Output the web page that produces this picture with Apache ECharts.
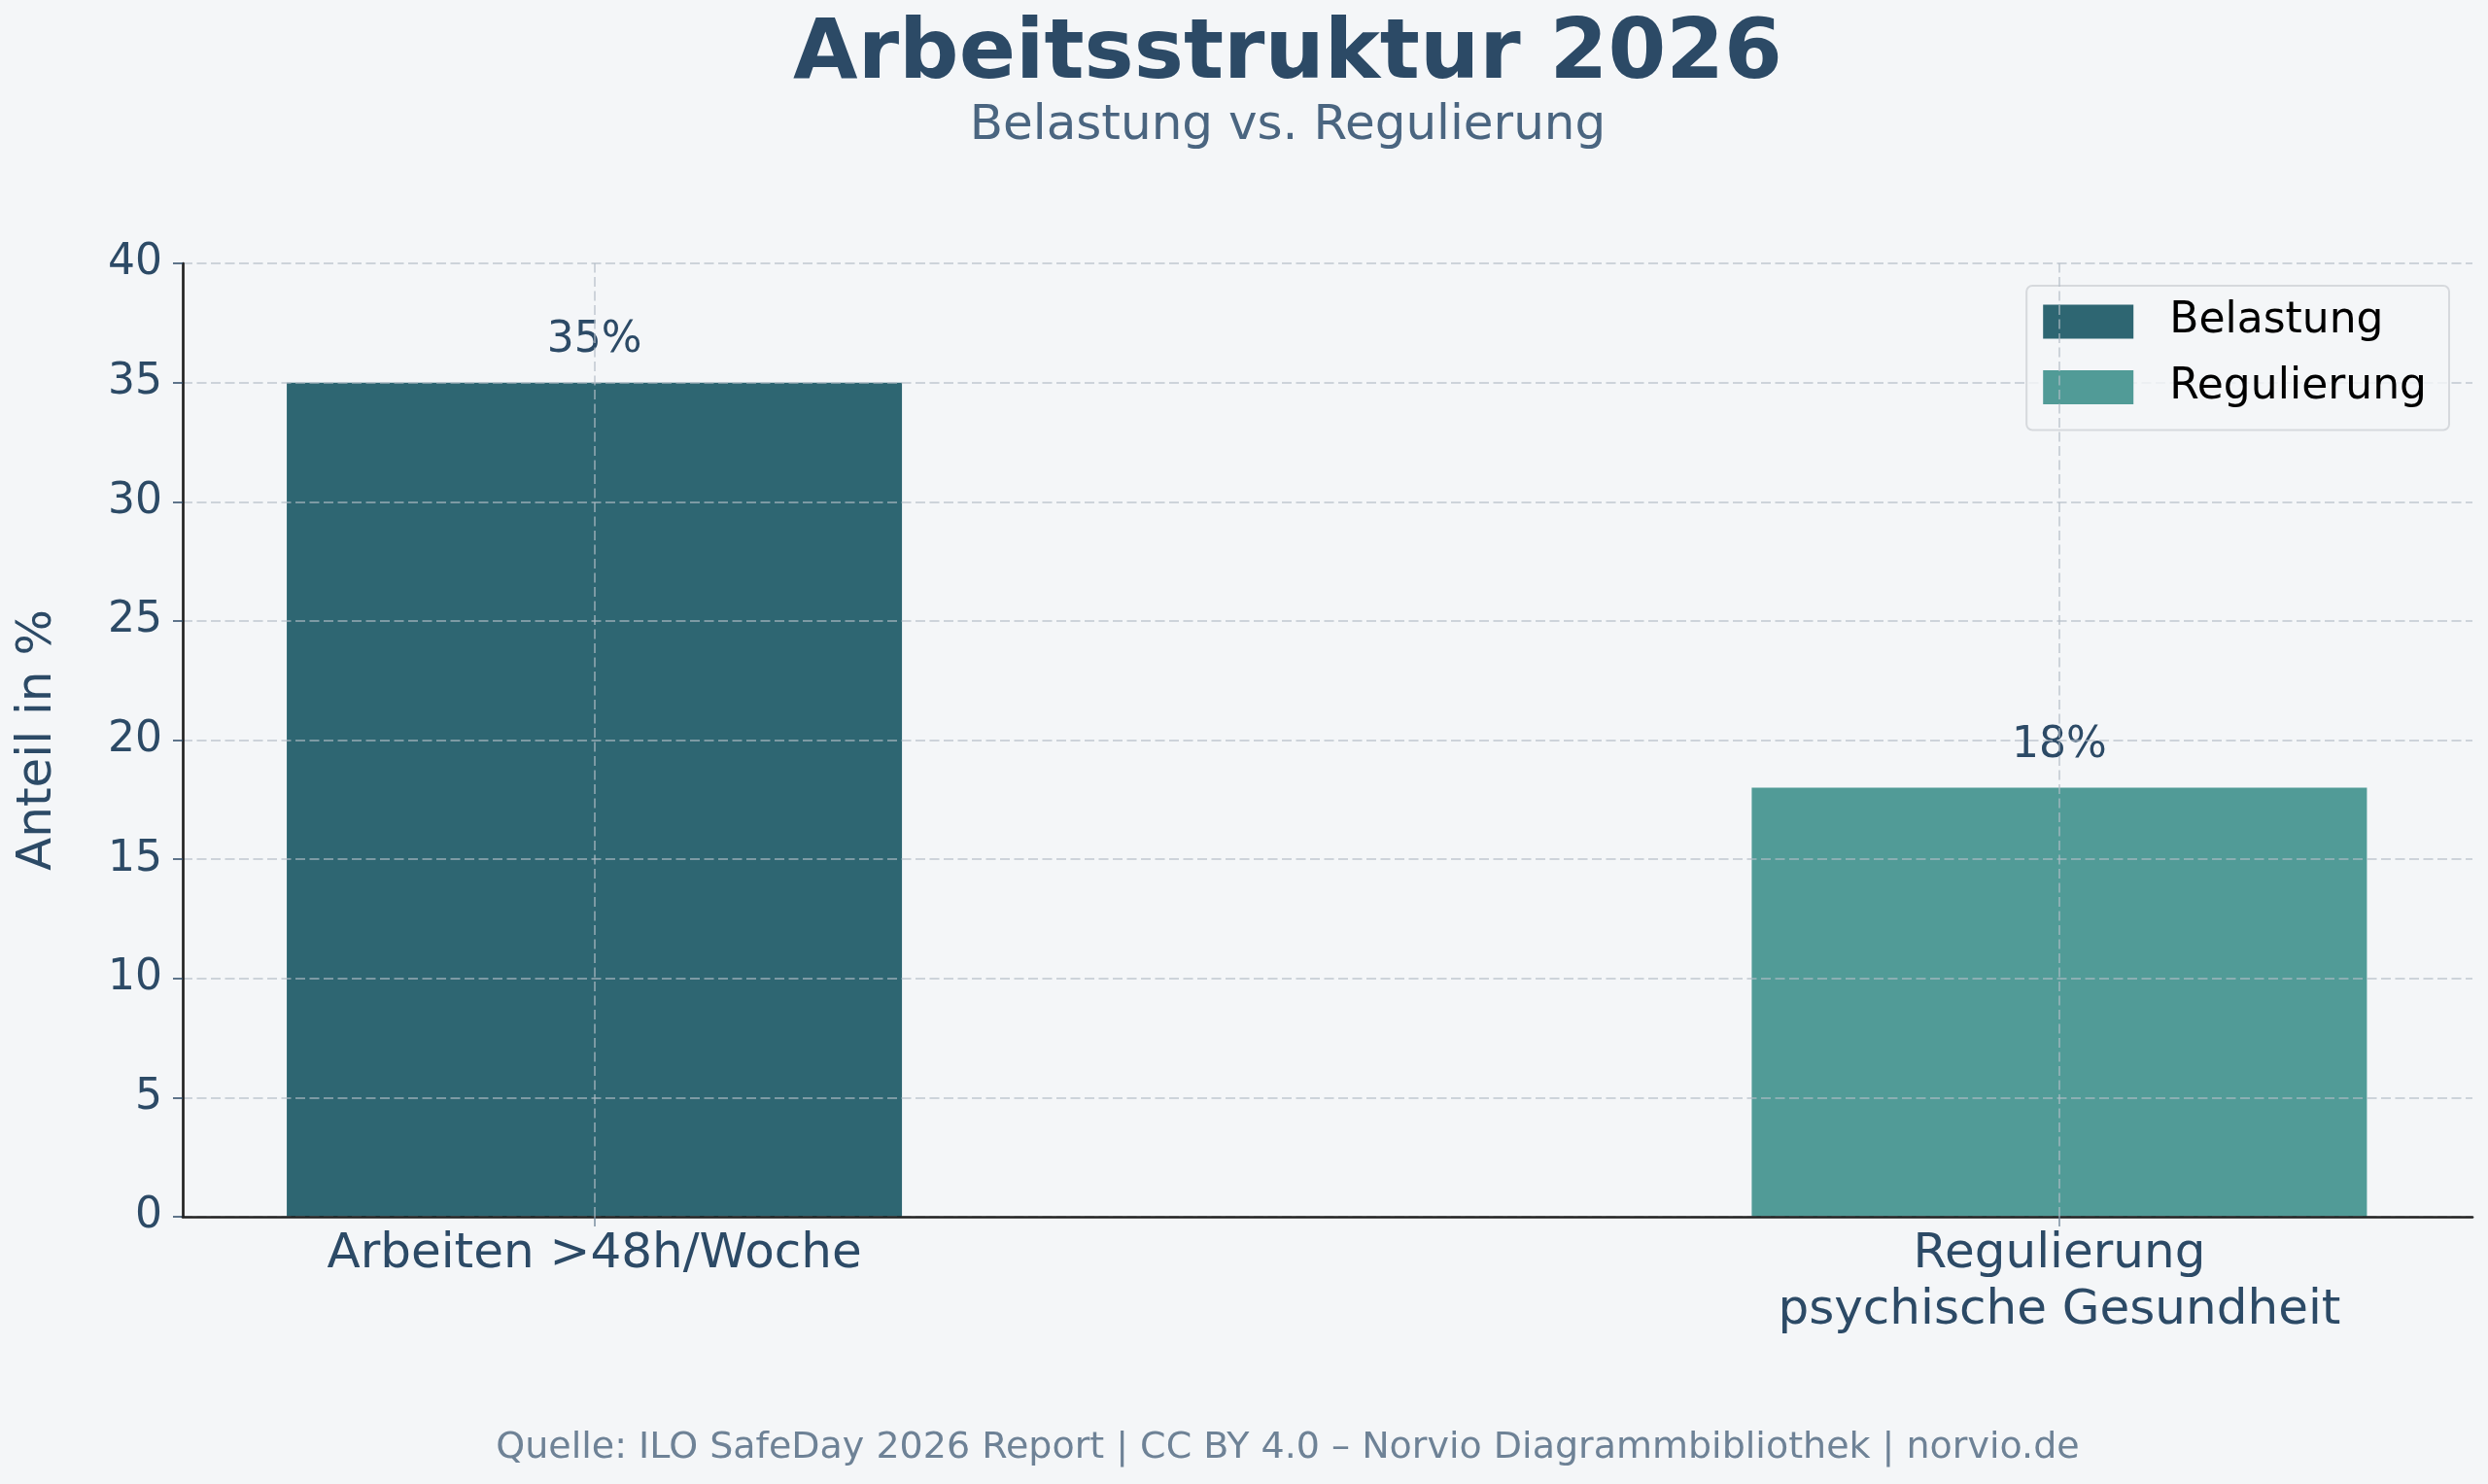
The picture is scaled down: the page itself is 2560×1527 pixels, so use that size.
<!DOCTYPE html>
<html>
<head>
<meta charset="utf-8">
<script src="https://cdn.jsdelivr.net/npm/echarts@6/dist/echarts.min.js"></script>
<style>
html,body{margin:0;padding:0;background:#f4f6f8;}
#chart{width:2560px;height:1527px;}
</style>
</head>
<body>
<div id="chart"></div>
<script>
var categories = ['Arbeiten >48h/Woche', 'Regulierung\npsychische Gesundheit'];
var seriesNames = ['Belastung', 'Regulierung'];
var values = [35, 18];
var seriesColors = ['#2e6672', '#519b97'];
var yTicks = [0, 5, 10, 15, 20, 25, 30, 35, 40];
var titleText = 'Arbeitsstruktur 2026';
var subtitleText = 'Belastung vs. Regulierung';
var footerText = 'Quelle: ILO SafeDay 2026 Report | CC BY 4.0 \u2013 Norvio Diagrammbibliothek | norvio.de';
var yAxisName = 'Anteil in %';

var FONT = 'DejaVu Sans';
var TEXT = '#2c4a66';
var GRID = 'rgba(179,188,198,0.6)';

var chart = echarts.init(document.getElementById('chart'), null, {renderer: 'canvas'});

var series = seriesNames.map(function (name, i) {
  var s = {
    name: name,
    type: 'bar',
    data: [[i, values[i]]],
    barWidth: 633,
    barGap: '-100%',
    itemStyle: {color: seriesColors[i]},
    label: {
      show: true,
      position: 'top',
      distance: 21,
      fontFamily: FONT,
      fontSize: 44,
      color: TEXT,
      formatter: function (p) { return p.value[1] + '%'; }
    },
    z: 2
  };
  if (i === 0) {
    s.markLine = {
      silent: true,
      symbol: 'none',
      z: 5,
      label: {show: false},
      lineStyle: {color: GRID, type: [10, 4.5], width: 2},
      data: categories.map(function (c, k) { return {xAxis: k}; })
    };
  }
  return s;
});

var option = {
  backgroundColor: '#f4f6f8',
  animation: false,
  title: [
    {
      text: titleText,
      left: 1320, top: 10, textAlign: 'center',
      textStyle: {fontFamily: FONT, fontSize: 86, fontWeight: 'bold', color: TEXT}
    },
    {
      text: subtitleText,
      left: 1320, top: 100, textAlign: 'center',
      textStyle: {fontFamily: FONT, fontSize: 50, fontWeight: 'normal', color: '#4a6580'}
    },
    {
      text: footerText,
      left: 1320, top: 1466, textAlign: 'center',
      textStyle: {fontFamily: FONT, fontSize: 38, fontWeight: 'normal', color: '#6e8296'}
    }
  ],
  legend: {
    orient: 'vertical',
    right: 40,
    top: 294,
    itemWidth: 93,
    itemHeight: 35,
    itemGap: 23.5,
    padding: [15, 23, 22, 17],
    backgroundColor: 'rgba(244,246,248,0.8)',
    borderColor: '#d6d9dd',
    borderWidth: 2,
    borderRadius: 6,
    icon: 'rect',
    textStyle: {fontFamily: FONT, fontSize: 44, lineHeight: 44, color: '#000', padding: [0, 0, 0, 32]},
    data: seriesNames
  },
  grid: {left: 188, right: 16, top: 271, bottom: 275, containLabel: false},
  xAxis: {
    type: 'value',
    min: -0.281,
    max: 1.282,
    z: 4,
    axisLine: {show: true, onZero: false, lineStyle: {color: '#222', width: 2.7}},
    axisTick: {show: true, customValues: [0, 1], length: 10, lineStyle: {color: '#7a8ea0', width: 1.5}},
    splitLine: {show: false},
    axisLabel: {
      customValues: [0, 1],
      margin: 10,
      fontFamily: FONT, fontSize: 50, lineHeight: 58, color: TEXT,
      formatter: function (v) { return categories[Math.round(v)] || ''; }
    }
  },
  yAxis: {
    type: 'value',
    min: yTicks[0],
    max: yTicks[yTicks.length - 1],
    interval: yTicks[1] - yTicks[0],
    z: 3,
    name: yAxisName,
    nameLocation: 'middle',
    nameGap: 124,
    nameTextStyle: {fontFamily: FONT, fontSize: 50, color: TEXT},
    axisLine: {show: true, onZero: false, lineStyle: {color: '#222', width: 2.7}},
    axisTick: {show: true, length: 10, lineStyle: {color: TEXT, width: 1.5}},
    axisLabel: {margin: 21, fontFamily: FONT, fontSize: 44, color: TEXT},
    splitLine: {show: true, lineStyle: {color: GRID, type: [10, 4.5], width: 2}}
  },
  series: series
};
chart.setOption(option);
</script>
</body>
</html>
